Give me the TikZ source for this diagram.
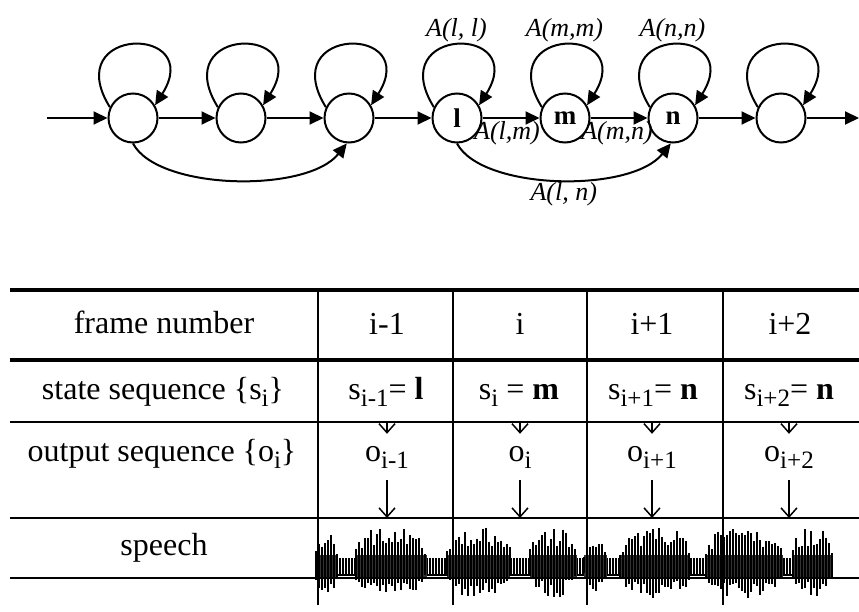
\documentclass[tikz,border=0pt]{standalone}
\usepackage{fontspec}
\setmainfont{Liberation Serif}
\usetikzlibrary{arrows.meta}

% lowered subscript as set in the table
\newcommand{\lsub}[1]{\raisebox{-7pt}{\fontsize{25}{25}\selectfont #1}}

\tikzset{
  state/.style={circle, draw, line width=2pt, minimum size=49pt, inner sep=0pt,
    font=\fontsize{27}{27}\selectfont\bfseries},
  arr/.style={line width=2pt, -{Triangle[length=14pt,width=13pt]}},
  lab/.style={font=\fontsize{26}{26}\selectfont\itshape, inner sep=2pt},
  vtip/.style={line width=1.5pt, -{Straight Barb[length=9pt,width=16pt]}},
  cell/.style={anchor=base, inner sep=0pt},
  obs/.style={cell, text height=27pt, text depth=19pt},
  wave/.style={line width=1.5pt}
}

\begin{document}
\begin{tikzpicture}[x=1pt, y=-1pt, font=\fontsize{32}{38}\selectfont]
\useasboundingbox (0,0) rectangle (859,612);

% left-to-right model
\node[state] (q1) at (133,118) {};
\node[state] (q2) at (241,118) {};
\node[state] (q3) at (349,118) {};
\node[state] (ql) at (457,118) {l};
\node[state] (qm) at (565,118) {m};
\node[state] (qn) at (673,118) {n};
\node[state] (q7) at (781,118) {};
\coordinate (in) at (47,118);
\coordinate (out) at (859,118);

\draw[arr] (in) -- (q1);
\draw[arr] (q1) -- (q2);
\draw[arr] (q2) -- (q3);
\draw[arr] (q3) -- (ql);
\draw[arr] (ql) -- node[lab, below, xshift=-4pt] {A(l,m)} (qm);
\draw[arr] (qm) -- node[lab, below, xshift=-2pt] {A(m,n)} (qn);
\draw[arr] (qn) -- (q7);
\draw[arr] (q7) -- (out);

% self loops
\draw[arr] (q1.155) .. controls +(-51,-82) and +(51,-81) .. (q1.30);
\draw[arr] (q2.155) .. controls +(-51,-82) and +(51,-81) .. (q2.30);
\draw[arr] (q3.155) .. controls +(-51,-82) and +(51,-81) .. (q3.30);
\draw[arr] (ql.155) .. controls +(-51,-82) and +(51,-81) .. node[lab, above] {A(l, l)} (ql.30);
\draw[arr] (qm.155) .. controls +(-51,-82) and +(51,-81) .. node[lab, above] {A(m,m)} (qm.30);
\draw[arr] (qn.155) .. controls +(-51,-82) and +(51,-81) .. node[lab, above] {A(n,n)} (qn.30);
\draw[arr] (q7.155) .. controls +(-51,-82) and +(51,-81) .. (q7.30);

% skip transitions
\draw[arr] (q1.south) .. controls +(25,47) and +(-40,50) .. (q3.265);
\draw[arr] (ql.south) .. controls +(25,47) and +(-40,50) .. node[lab, below, pos=0.52] {A(l, n)} (qn.265);

% speech waveform, quiet parts first
\pgfmathsetseed{11}
\draw[line width=1.2pt] (316,575) -- (833,575);
\foreach \k in {0,...,172}
  \draw[line width=1.2pt] (316+3*\k,558) -- (316+3*\k,575);
\foreach \a/\b/\h in {316/338/40,356/427/42,447/510/42,530/577/40,584/607/34,620/690/41,706/783/42,793/832/40} {
  \fill[black!80] (\a,555) rectangle (\b,578);
  \pgfmathtruncatemacro\nk{(\b-\a)/3}
  \foreach \k in {0,...,\nk} {
    \pgfmathsetmacro\env{0.45+0.55*sqrt(sin(180*\k/\nk))}
    \pgfmathsetmacro\up{\h*\env*(0.5+0.5*rnd)}
    \pgfmathsetmacro\dn{0.8*\h*\env*(0.5+0.5*rnd)}
    \draw[wave] (\a+3*\k,566-\up) -- (\a+3*\k,566+\dn);
  }
}

% table rules
\draw[line width=4pt] (10,290) -- (859,290);
\draw[line width=4pt] (10,360) -- (859,360);
\draw[line width=1.5pt] (10,422) -- (859,422);
\draw[line width=1.5pt] (10,518) -- (859,518);
\draw[line width=1.5pt] (10,578) -- (859,578);
\foreach \x in {318,453,587,723}
  \draw[line width=1.5pt] (\x,290) -- (\x,605);

% row heads
\node[cell] (frame) at (164,333) {frame number};
\node[cell] (state) at (163,399) {state sequence \{s\lsub{i}\}};
\node[cell] (output) at (162,461) {output sequence \{o\lsub{i}\}};
\node[cell] (speech) at (164,555) {speech};

\node[cell] (fr1) at (387,334) {i-1};
\node[cell] (fr2) at (520,334) {i};
\node[cell] (fr3) at (652,334) {i+1};
\node[cell] (fr4) at (790,334) {i+2};

\node[cell] (ss1) at (386,399) {s\lsub{i-1}= \textbf{l}};
\node[cell] (ss2) at (519,399) {s\lsub{i} = \textbf{m}};
\node[cell] (ss3) at (653,399) {s\lsub{i+1}= \textbf{n}};
\node[cell] (ss4) at (789,399) {s\lsub{i+2}= \textbf{n}};

\node[obs] (os1) at (387,461) {o\lsub{i-1}};
\node[obs] (os2) at (520,461) {o\lsub{i}};
\node[obs] (os3) at (652,461) {o\lsub{i+1}};
\node[obs] (os4) at (789,461) {o\lsub{i+2}};

\foreach \i/\x in {1/387,2/520,3/652,4/789} {
  \coordinate (c\i) at (\x,422);
  \coordinate (w\i) at (\x,518);
  \draw[vtip] (c\i) -- (os\i.north);
  \draw[vtip] (os\i.south) -- (w\i);
}
\end{tikzpicture}
\end{document}
